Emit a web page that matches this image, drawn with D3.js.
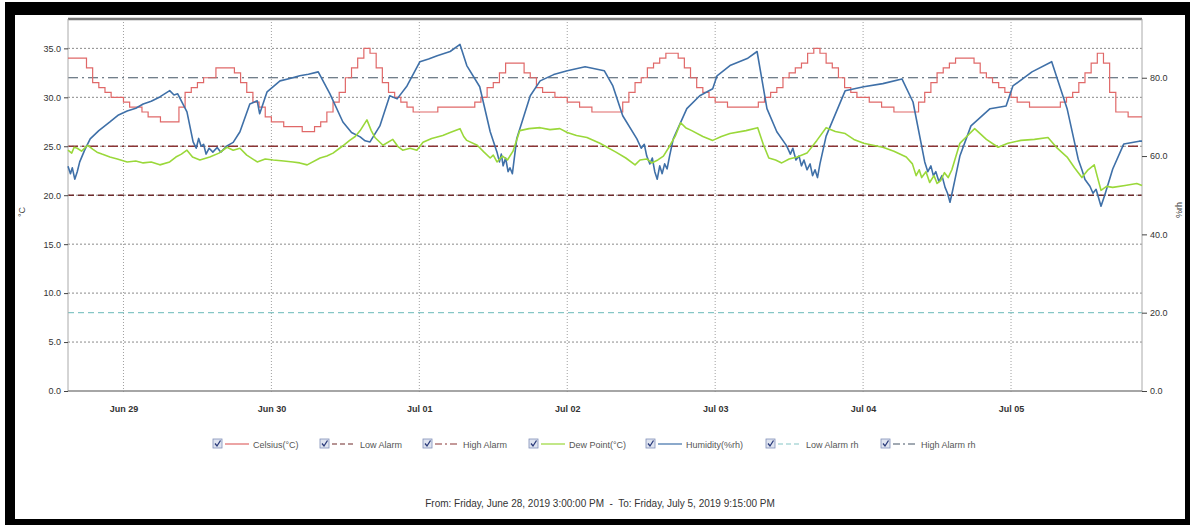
<!DOCTYPE html>
<html><head><meta charset="utf-8">
<script src="https://cdn.jsdelivr.net/npm/d3@7"></script>
<style>body{margin:0;background:#fff;} svg{display:block;font-family:"Liberation Sans",Arial,sans-serif;}</style>
</head><body><svg id="c" width="1190" height="525"></svg>
<script>
// ---------- data ----------
const startTime = "2019-06-28T15:00:00";
const endTime = "2019-07-05T21:15:00";
const dayTicks = ["2019-06-29","2019-06-30","2019-07-01","2019-07-02","2019-07-03","2019-07-04","2019-07-05"];
const dayTickLabels = ["Jun 29","Jun 30","Jul 01","Jul 02","Jul 03","Jul 04","Jul 05"];
const tempTicks = [0,5,10,15,20,25,30,35];
const rhTicks = [0,20,40,60,80];
const lowAlarmC = 20, highAlarmC = 25, lowAlarmRh = 20, highAlarmRh = 80;
// Celsius readings, one per hour from start
const celsiusStepHours = 1;
const celsiusValues = [
 34.0,34.0,34.0,33.0,31.5,31.0,30.5,30.0,30.0,29.5,
 29.0,29.0,28.5,28.0,28.0,27.5,27.5,27.5,29.0,30.5,
 31.0,31.5,32.0,32.0,33.0,33.0,33.0,32.5,31.5,30.5,
 29.5,29.0,28.0,27.5,27.5,27.0,27.0,27.0,26.5,26.5,
 27.0,27.5,28.5,29.5,30.5,32.0,33.0,34.0,35.0,34.5,
 33.0,31.5,30.5,30.0,29.5,29.0,28.5,28.5,28.5,28.5,
 29.0,29.0,29.0,29.0,29.0,29.0,29.5,30.0,31.0,31.5,
 32.5,33.5,33.5,33.5,32.5,32.0,31.0,30.5,30.5,30.0,
 30.0,29.5,29.5,29.0,29.0,28.5,28.5,28.5,28.5,28.5,
 29.5,30.5,31.5,32.0,33.0,33.5,34.0,34.5,34.5,34.0,
 33.0,32.0,31.0,30.5,30.0,29.5,29.5,29.0,29.0,29.0,
 29.0,29.0,29.5,30.0,30.5,31.0,32.0,32.5,33.0,33.5,
 34.5,35.0,34.5,33.5,33.0,32.0,31.0,30.5,30.0,30.0,
 29.5,29.5,29.0,29.0,28.5,28.5,28.5,28.5,29.5,30.5,
 31.5,32.5,33.0,33.5,34.0,34.0,34.0,33.5,32.5,32.0,
 31.5,31.0,30.5,30.0,29.5,29.5,29.0,29.0,29.0,29.0,
 29.0,29.5,30.0,30.5,31.5,32.5,33.5,34.5,33.5,30.5,
 28.5,28.5,28.0,28.0,28.0];
// Dew point: [hours from start, °C]
const dewPoint = [
 [0,24.6],[0.6,24.3],[1.0,24.9],[1.5,24.8],[2.2,24.5],[3.2,25.1],[4.0,24.7],[4.7,24.4],[5.5,24.2],[6.8,23.9],[8.0,23.7],[9.6,23.4],
 [11,23.5],[12.2,23.3],[13.5,23.4],[14.9,23.1],[16.5,23.4],[17.5,23.9],[18.4,24.2],[19.3,24.6],
 [20.2,23.9],[21.4,23.6],[23,23.9],[24.5,24.3],[25.8,24.9],[26.8,24.6],[27.9,24.8],[29,24.1],[30.7,23.4],[32,23.7],[33.3,23.6],
 [35,23.5],[36.5,23.4],[37.6,23.3],[38.8,23.1],[40.9,23.8],[42,24.0],[43,24.3],
 [44.5,25.0],[45.7,25.6],[46.6,26.0],[47.4,26.6],[48.5,27.7],[49.2,26.6],[49.8,25.9],[51.1,25.1],[52.7,25.7],[53.5,25.0],[54.3,24.6],[55.5,24.8],[56.6,24.6],[57.6,25.4],
 [59,25.8],[60.8,26.1],[62,26.4],[63.6,26.8],[64.2,26.0],[64.7,25.6],[66.4,25.1],[67.5,24.4],[68.5,23.8],[69.0,24.1],[69.6,23.4],[70.5,24.0],[71.3,23.6],[72.2,24.5],[73.3,26.6],
 [74.8,26.8],[76.6,26.9],[78.2,26.7],[79.8,26.8],[81,26.4],[82.5,26.1],
 [84.2,25.9],[86.3,25.3],[88.9,24.4],[90.5,23.8],[92,23.1],[92.8,23.6],[93.9,23.7],[94.7,23.3],[95.7,23.6],[96.6,24.0],[97.5,24.9],[98.5,26.0],[99.4,27.4],[100.2,26.9],[101.2,26.6],[103,26.0],[104.6,25.6],
 [106,26.0],[107.4,26.3],[110,26.6],[111.9,26.9],[112.8,25.2],[113.7,23.8],[114.8,23.6],[115.8,23.3],[117,23.7],[118.3,23.9],[119.9,24.3],[121.5,25.6],[123,26.9],[124.5,26.5],[126.1,26.3],[127.5,25.7],[129.1,25.3],
 [130.6,25.1],[132.2,24.9],[134,24.5],[136,23.9],[137,23.2],[137.6,22.0],[138.1,22.6],[138.5,21.8],[139.2,22.4],[139.8,21.3],[140.5,22.0],[141.0,21.2],[141.6,21.5],[142.2,22.3],[142.8,21.8],[143.4,22.6],[144.7,25.3],[145.8,26.0],[147.1,26.8],[149,25.7],[150.9,24.9],[152.5,25.3],[154.6,25.6],[156.8,25.7],[159,25.9],
 [160.5,24.8],[162.1,23.9],[163.3,22.8],[164.5,21.8],[165.5,22.6],[166.5,23.1],[167.0,21.9],[167.6,20.5],[168.5,20.9],[169.5,20.8],[171.5,21.0],[173.4,21.2],[174.25,21.0]];
// Humidity: [hours from start, %rh]
const humidity = [
 [0,57.4],[0.4,55.5],[0.7,57.0],[1.1,54.1],[1.5,56.0],[1.9,58.5],[2.7,61.5],[3.6,64.4],[5.0,66.5],[6.8,68.7],[8.2,70.5],[9.6,71.5],[11,72.2],[12.2,73.3],[13.5,74.0],[14.9,75.1],[16.5,76.7],[17.2,75.6],[17.8,75.9],
 [19.3,71.3],[20.3,63.6],[20.8,62.0],[21.2,64.5],[21.6,62.5],[22.0,63.0],[22.4,60.5],[22.9,62.0],[23.5,61.0],[24.2,62.2],[24.8,61.0],[25.8,62.6],[26.8,63.5],[27.9,66.2],[29.5,73.3],[30.7,74.1],[31.1,70.8],
 [32.3,76.4],[34.4,79.2],[36,79.8],[37.6,80.5],[39,80.9],[40.6,81.5],[42.5,75.9],[44.6,68.7],[46,66.0],[47.4,64.9],[48.2,63.9],[49,63.6],[50.6,67.7],[52.2,75.4],
 [53.4,74.6],[55,77.9],[57.1,84.1],[58.5,84.8],[59.9,85.6],[62,86.7],[63.6,88.5],[64.7,83.1],[66.8,77.7],[68.5,66.2],[69.6,61.0],
 [70.0,58.5],[70.3,60.5],[70.6,57.5],[71.0,59.5],[71.4,56.0],[71.7,57.0],[72.1,55.5],[72.8,64.4],[75,75.4],[76.6,79.2],[78.8,80.8],[81,81.8],[83.9,82.8],[87,81.8],[88.4,77.9],[90,70.3],
 [92.3,64.4],[93.0,62.0],[93.5,63.0],[93.9,60.0],[94.4,58.0],[94.8,59.5],[95.2,56.0],[95.6,54.1],[96.0,57.5],[96.4,55.5],[96.8,58.0],[97.2,56.7],[97.6,60.0],[98.2,64.4],[100.4,72.1],[102.5,75.4],[104.6,77.2],[105.3,80.5],
 [107.4,83.1],[110.2,84.9],[111.8,86.7],[113.4,72.1],[115,66.2],[116.6,62.6],[117.2,60.5],[117.6,62.0],[118.1,59.0],[118.6,60.0],[119.0,57.5],[119.4,59.0],[119.9,56.5],[120.4,58.0],[120.8,55.0],[121.2,56.5],[121.6,54.5],[122.0,58.0],[123,65.1],
 [126.1,76.7],[129.1,77.7],[132.2,78.5],[135.3,79.7],[137.1,73.8],[139,58.5],[139.5,56.0],[140.0,57.5],[140.4,55.0],[140.8,56.0],[141.3,53.5],[141.8,55.0],[142.3,52.0],[142.7,50.5],[143.1,48.2],[143.5,51.0],[143.9,54.0],
 [144.7,60.0],[146.5,67.7],[149.6,72.1],[152.2,72.8],[153.3,77.9],[156.4,81.5],[159.6,84.1],[162.1,72.1],[163.9,59.2],[164.5,56.5],[165.0,54.0],[165.8,52.3],[166.3,50.5],[166.8,51.5],
 [167.6,47.2],[168.2,50.0],[169.5,56.7],[171.3,63.1],[173.8,63.8],[174.25,63.8]];
const legendLabels = ["Celsius(°C)","Low Alarm","High Alarm","Dew Point(°C)","Humidity(%rh)","Low Alarm rh","High Alarm rh"];
const footerText = "From: Friday, June 28, 2019 3:00:00 PM  -  To: Friday, July 5, 2019 9:15:00 PM";

// ---------- drawing ----------
const svg = d3.select("#c");
svg.append("rect").attr("x",5).attr("y",2).attr("width",1185).attr("height",523).attr("fill","#000");
svg.append("rect").attr("x",15).attr("y",15).attr("width",1170).attr("height",504).attr("fill","#fff");

const L=68,R=1142,T=19,B=391;
const t0 = new Date(startTime);
const hr = h => new Date(t0.getTime()+h*3600e3);
const x = d3.scaleTime().domain([t0,new Date(endTime)]).range([L,R]);
const yT = d3.scaleLinear().domain([0,38]).range([B,T]);
const yR = d3.scaleLinear().domain([0,95]).range([B,T]);

const COL = {cel:"#e06868", dew:"#9ad83a", hum:"#3f70a8", lowC:"#6e2a2a", highC:"#8a3434", lowRh:"#86c6c6", highRh:"#445566"};

// grid
const g = svg.append("g");
g.selectAll(".hg").data(tempTicks.filter(d=>d>0)).join("line")
 .attr("x1",L).attr("x2",R).attr("y1",d=>yT(d)).attr("y2",d=>yT(d))
 .attr("stroke","#8a8a8a").attr("stroke-dasharray","2,2").attr("stroke-width",1);
g.selectAll(".vg").data(dayTicks).join("line")
 .attr("x1",d=>x(new Date(d+"T00:00:00"))).attr("x2",d=>x(new Date(d+"T00:00:00")))
 .attr("y1",T).attr("y2",B+3)
 .attr("stroke","#a0a0a0").attr("stroke-dasharray","1,2").attr("stroke-width",1);

// alarm lines
const hl = (y,col,dash,w)=>svg.append("line").attr("x1",L).attr("x2",R).attr("y1",y).attr("y2",y)
 .attr("stroke",col).attr("stroke-dasharray",dash).attr("stroke-width",w||1.2);
hl(yR(lowAlarmRh),COL.lowRh,"6,4",1.2);
hl(yR(highAlarmRh),COL.highRh,"10,4,2,4",1.2);
hl(yT(lowAlarmC),COL.lowC,"6,4",1.5);
hl(yT(highAlarmC),COL.highC,"10,4,2,4",1.5);

// frame
svg.append("line").attr("x1",L).attr("x2",R).attr("y1",T).attr("y2",T).attr("stroke","#777").attr("stroke-width",2.5);
svg.append("line").attr("x1",L).attr("x2",L).attr("y1",T).attr("y2",B).attr("stroke","#aaa");
svg.append("line").attr("x1",R).attr("x2",R).attr("y1",T).attr("y2",B).attr("stroke","#aaa");
svg.append("line").attr("x1",L).attr("x2",R).attr("y1",B).attr("y2",B).attr("stroke","#888").attr("stroke-width",1.5);

// series
const celData = celsiusValues.map((v,i)=>[hr(i*celsiusStepHours),v]);
celData.push([new Date(endTime), celsiusValues[celsiusValues.length-1]]);
svg.append("path").datum(celData).attr("fill","none").attr("stroke",COL.cel).attr("stroke-width",1.2)
 .attr("d",d3.line().x(d=>x(d[0])).y(d=>yT(d[1])).curve(d3.curveStepAfter));
svg.append("path").datum(humidity).attr("fill","none").attr("stroke",COL.hum).attr("stroke-width",1.6)
 .attr("stroke-linejoin","round").attr("d",d3.line().x(d=>x(hr(d[0]))).y(d=>yR(d[1])));
svg.append("path").datum(dewPoint).attr("fill","none").attr("stroke",COL.dew).attr("stroke-width",1.6)
 .attr("stroke-linejoin","round").attr("d",d3.line().x(d=>x(hr(d[0]))).y(d=>yT(d[1])));

// axes
const ax = svg.append("g").attr("transform",`translate(${L},0)`)
 .call(d3.axisLeft(yT).tickValues(tempTicks).tickFormat(d3.format(".1f")).tickSize(4).tickPadding(3));
const axR = svg.append("g").attr("transform",`translate(${R},0)`)
 .call(d3.axisRight(yR).tickValues(rhTicks).tickFormat(d3.format(".1f")).tickSize(5).tickPadding(3));
const axB = svg.append("g").attr("transform",`translate(0,${B})`)
 .call(d3.axisBottom(x).tickValues(dayTicks.map(d=>new Date(d+"T00:00:00"))).tickFormat((d,i)=>dayTickLabels[i]).tickSize(0).tickPadding(15));
[ax,axR,axB].forEach(a=>{a.select(".domain").remove();a.selectAll("text").attr("font-size",9).attr("fill","#333").attr("font-family","Liberation Sans, Arial, sans-serif");a.selectAll("line").attr("stroke","#444");});
axB.selectAll("text").attr("font-weight","bold");

svg.append("text").attr("transform","translate(25,212) rotate(-90)").attr("text-anchor","middle").attr("font-size",9).attr("fill","#444").text("°C");
svg.append("text").attr("transform","translate(1182,210) rotate(-90)").attr("text-anchor","middle").attr("font-size",9).attr("fill","#444").text("%rh");

// legend
const legX = [213,320,423,529,646,766,881];
const legStyle = [[COL.cel,null],[COL.lowC,"5,3"],[COL.highC,"7,3,2,3"],[COL.dew,null],[COL.hum,null],[COL.lowRh,"5,3"],[COL.highRh,"7,3,2,3"]];
const ly = 444;
const leg = svg.append("g").selectAll("g").data(legendLabels).join("g").attr("transform",(d,i)=>`translate(${legX[i]},${ly})`);
leg.append("rect").attr("x",0).attr("y",-5).attr("width",9).attr("height",9).attr("fill","#dfe4f0").attr("stroke","#8090b8").attr("stroke-width",0.8);
leg.append("path").attr("d","M2,-0.5 L4,2 L7.5,-3.5").attr("fill","none").attr("stroke","#2a3a7a").attr("stroke-width",1.3);
leg.append("line").attr("x1",12).attr("x2",36).attr("y1",0).attr("y2",0)
 .attr("stroke",(d,i)=>legStyle[i][0]).attr("stroke-dasharray",(d,i)=>legStyle[i][1]).attr("stroke-width",1.2);
leg.append("text").attr("x",40).attr("y",3.5).attr("font-size",9).attr("fill","#555").text(d=>d);

// footer
svg.append("text").attr("x",600).attr("y",507).attr("text-anchor","middle").attr("font-size",10).attr("fill","#333")
 .attr("xml:space","preserve").style("white-space","pre").text(footerText);
</script></body></html>
